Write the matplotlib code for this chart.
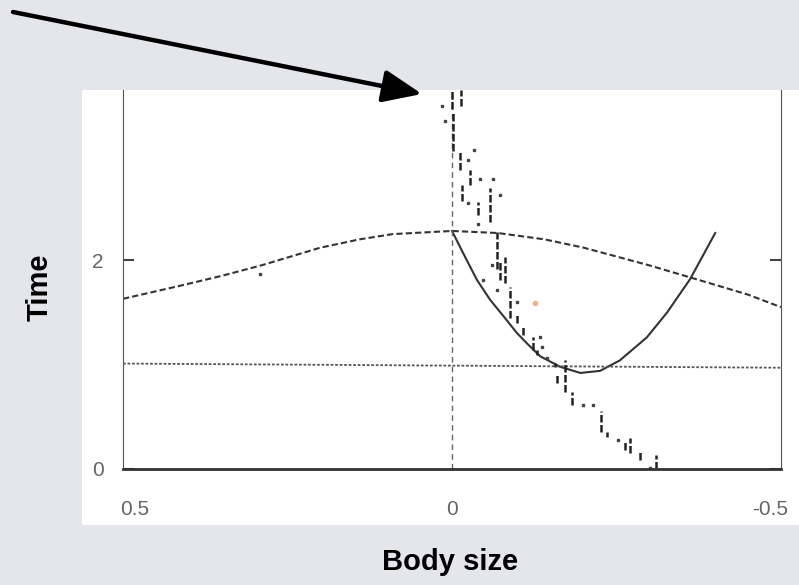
import matplotlib.pyplot as plt
import matplotlib.transforms as mtransforms
from matplotlib.patches import Rectangle, FancyArrowPatch

plt.rcParams['font.family'] = ['Liberation Sans', 'DejaVu Sans']

# ==========================================
# DATA
# ==========================================

# wide dashed curve (fitness landscape)
gauss_body = [0.5, 0.41, 0.35, 0.29, 0.2, 0.14, 0.09, 0.0, -0.07, -0.14, -0.2, -0.3, -0.37, -0.45, -0.5]
gauss_time = [1.63, 1.76, 1.85, 1.95, 2.12, 2.20, 2.25, 2.28, 2.26, 2.20, 2.12, 1.95, 1.82, 1.67, 1.55]

# solid parabola
para_body = [0.0, -0.020, -0.038, -0.058, -0.080, -0.099, -0.116, -0.134, -0.164,
             -0.195, -0.225, -0.255, -0.296, -0.327, -0.362, -0.400]
para_time = [2.28, 2.03, 1.81, 1.62, 1.45, 1.30, 1.19, 1.08, 0.98,
             0.92, 0.94, 1.04, 1.26, 1.50, 1.82, 2.26]

# dotted horizontal level
level_body = [0.5, -0.5]
level_time = [1.01, 0.97]

# lineage trail: short vertical bars
bar_body = [0.0, -0.014, -0.002, -0.012, -0.028, -0.015, -0.058, -0.040, -0.069, -0.081,
            -0.073, -0.088, -0.099, -0.108, -0.123, -0.129, -0.157, -0.172, -0.160, -0.182,
            -0.226, -0.236, -0.263, -0.271, -0.286, -0.310]
bar_lo = [3.45, 3.48, 3.05, 2.86, 2.72, 2.57, 2.37, 2.43, 1.92, 1.78,
          1.81, 1.45, 1.40, 1.28, 1.14, 1.09, 0.98, 0.74, 0.82, 0.61,
          0.35, 0.31, 0.18, 0.15, 0.09, 0.0]
bar_hi = [3.63, 3.63, 3.43, 3.04, 2.86, 2.72, 2.69, 2.56, 2.27, 2.03,
          2.00, 1.74, 1.49, 1.36, 1.26, 1.14, 1.02, 1.04, 0.90, 0.74,
          0.56, 0.35, 0.26, 0.30, 0.16, 0.13]

# lineage trail: scattered dots
dot_body = [0.015, 0.011, -0.034, -0.024, -0.043, -0.062, -0.073, -0.024, -0.040, -0.047,
            -0.068, -0.061, -0.099, -0.134, -0.137, -0.144, -0.199, -0.214, -0.252, -0.301,
            0.292]
dot_time = [3.48, 3.33, 3.06, 2.96, 2.78, 2.78, 2.62, 2.55, 2.35, 1.81,
            1.71, 1.95, 1.60, 1.26, 1.17, 1.06, 0.61, 0.61, 0.28, 0.01,
            1.87]

x_ticks = [0.5, 0, -0.5]
x_tick_labels = ["0.5", "0", "-0.5"]
y_ticks = [0, 2]
y_tick_labels = ["0", "2"]

# ==========================================
# FIGURE
# ==========================================

W, H = 799, 585
fig = plt.figure(figsize=(W / 100, H / 100), dpi=100)
fig.patch.set_facecolor('#e5e6eb')

# white scanned panel (behind the axes)
fig.patches.append(Rectangle((82 / W, 1 - 525 / H), (W - 82) / W, (525 - 90) / H,
                             transform=fig.transFigure, facecolor='white',
                             edgecolor='none', zorder=-5))

ax = fig.add_axes([123 / W, 1 - 469 / H, (781 - 123) / W, (469 - 90) / H])
ax.set_zorder(1)
ax.set_facecolor('none')
ax.set_xlim(0.5, -0.5)
ax.set_ylim(0, 3.63)

ax.plot(gauss_body, gauss_time, color='#333333', lw=1.5, ls=(0, (3, 1.5)))
ax.plot(para_body, para_time, color='#333333', lw=1.5)
ax.plot(level_body, level_time, color='#555555', lw=1.3, ls=(0, (1.5, 1)))
ax.axvline(0, color='#666666', lw=1.0, ls=(0, (4, 3)))

ax.vlines(bar_body, bar_lo, bar_hi, color='#222222', lw=1.8, linestyles=(0, (3, 1)))
ax.plot(dot_body, dot_time, ls='none', marker='s', ms=1.8, color='#444444')
ax.plot([-0.126], [1.59], ls='none', marker='o', ms=3, color='#f0b090')

# spines / ticks
ax.spines['top'].set_visible(False)
ax.spines['left'].set_color('#555555')
ax.spines['right'].set_color('#555555')
ax.spines['bottom'].set_color('#333333')
ax.spines['bottom'].set_linewidth(2)

ax.set_xticks(x_ticks)
ax.set_xticklabels(x_tick_labels)
ax.set_yticks(y_ticks)
ax.set_yticklabels(y_tick_labels)
ax.tick_params(axis='x', direction='in', length=0, pad=22, labelsize=15, labelcolor='#666666')
ax.tick_params(axis='y', direction='in', length=8, width=1.5, color='#444444',
               right=True, pad=14, labelsize=15, labelcolor='#666666')

# nudge outer x labels inward like the scan
labels = ax.get_xticklabels()
labels[0].set_transform(labels[0].get_transform() +
                        mtransforms.ScaledTranslation(12 / 100, 0, fig.dpi_scale_trans))
labels[2].set_transform(labels[2].get_transform() +
                        mtransforms.ScaledTranslation(-11 / 100, 0, fig.dpi_scale_trans))

# axis titles in the gray margin
fig.text(40 / W, 1 - 287 / H, "Time", rotation=90, ha='center', va='center',
         fontsize=21, fontweight='bold', color='black')
fig.text(450 / W, 1 - 562 / H, "Body size", ha='center', va='center',
         fontsize=21, fontweight='bold', color='black')

# pointer arrow
arrow = FancyArrowPatch((13 / W, 1 - 12 / H), (422 / W, 1 - 94 / H),
                        transform=fig.transFigure,
                        arrowstyle='-|>,head_length=1.2,head_width=0.5',
                        mutation_scale=20, lw=3.2, color='black',
                        shrinkA=0, shrinkB=0, zorder=5)
fig.patches.append(arrow)

plt.savefig("out.png", dpi=100, facecolor=fig.get_facecolor())
